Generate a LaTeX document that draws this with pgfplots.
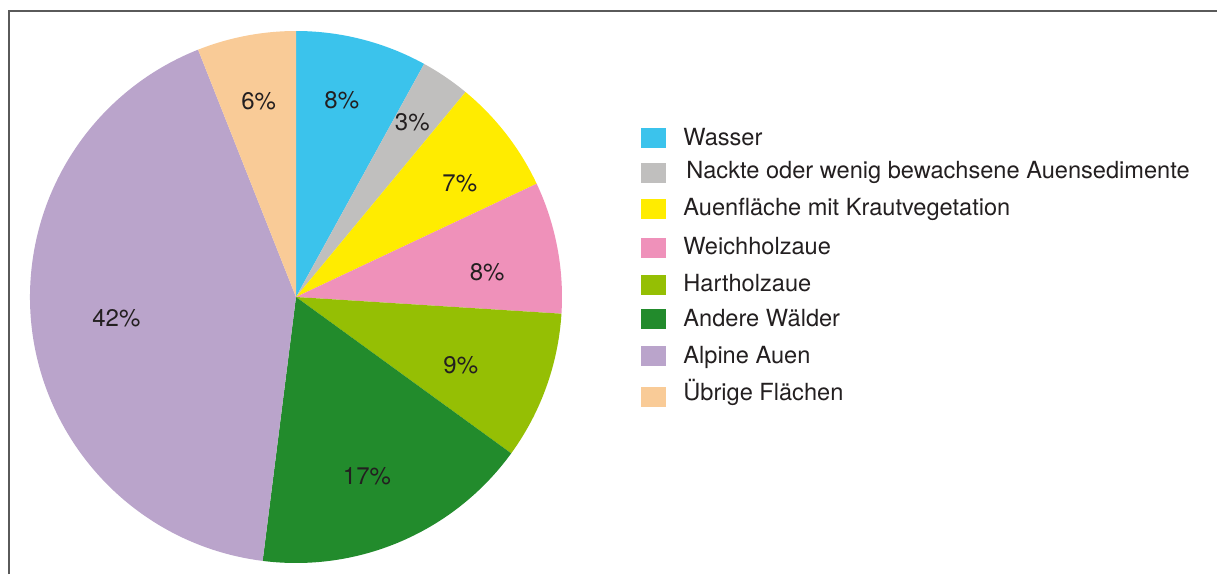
\documentclass[border=0pt]{standalone}
\usepackage{fontspec}
\setmainfont{TeX Gyre Heros}
\usepackage{pgfplots}
\usepackage{pgfplotstable}
\pgfplotsset{compat=1.18}

\definecolor{cWasser}{HTML}{3BC3EC}
\definecolor{cNackt}{HTML}{C0BFBE}
\definecolor{cKraut}{HTML}{FFEC00}
\definecolor{cWeich}{HTML}{EF91BA}
\definecolor{cHart}{HTML}{95BF04}
\definecolor{cWald}{HTML}{228B2C}
\definecolor{cAlpin}{HTML}{BAA4CB}
\definecolor{cUebrig}{HTML}{F9CB97}
\definecolor{txt}{HTML}{231F20}
\definecolor{frame}{HTML}{5A5A5A}

% share in percent, slice colour, label distance (fraction of radius),
% label angle nudge (deg), legend row: key centre, text baseline, text start (px from top left)
\pgfplotstableread[col sep=comma]{
name,value,color,lr,da,sy,ty,tx
Wasser,8,cWasser,0.76,1.3,138,146,683
Nackte oder wenig bewachsene Auensedimente,3,cNackt,0.79,0.6,173,179,686
Auenfläche mit Krautvegetation,7,cKraut,0.75,-3,209.5,215.7,683
Weichholzaue,8,cWeich,0.725,-3.3,248,254.3,683
Hartholzaue,9,cHart,0.67,-2.6,284.7,291.7,683
Andere Wälder,17,cWald,0.725,-1.8,319,326.7,683
Alpine Auen,42,cAlpin,0.68,-0.5,356,363.3,683
Übrige Flächen,6,cUebrig,0.75,0,397,401,683
}\piedata

\begin{document}
\begin{tikzpicture}
\path[use as bounding box] (0,0) rectangle (608.5pt,287pt);

\begin{axis}[
  at={(148pt,138.5pt)}, anchor=center,
  scale only axis, width=266pt, height=266pt,
  xmin=-1, xmax=1, ymin=-1, ymax=1,
  hide axis, clip=false]
\def\cum{0}
\pgfplotsforeachungrouped \i in {0,...,7}{
  \pgfplotstablegetelem{\i}{value}\of\piedata \let\v\pgfplotsretval
  \pgfplotstablegetelem{\i}{color}\of\piedata \let\col\pgfplotsretval
  \pgfplotstablegetelem{\i}{lr}\of\piedata \let\lr\pgfplotsretval
  \pgfplotstablegetelem{\i}{da}\of\piedata \let\da\pgfplotsretval
  \pgfmathsetmacro\sa{90-\cum*3.6}
  \pgfmathsetmacro\ea{90-(\cum+\v)*3.6}
  \pgfmathsetmacro\ma{(\sa+\ea)/2+\da}
  \pgfmathsetmacro\sx{cos(\sa)}
  \pgfmathsetmacro\sy{sin(\sa)}
  \pgfmathsetmacro\lx{\lr*cos(\ma)}
  \pgfmathsetmacro\ly{\lr*sin(\ma)}
  \edef\temp{%
    \noexpand\fill[\col] (axis cs:0,0) -- (axis cs:\sx,\sy)
      arc[start angle=\sa, end angle=\ea, radius=133pt] -- cycle;
    \noexpand\node[text=txt, font=\noexpand\fontsize{12}{14}\noexpand\selectfont, inner sep=0pt]
      at (axis cs:\lx,\ly) {\v\noexpand\%};
  }
  \temp
  \pgfmathsetmacro\cum{\cum+\v}
}
\end{axis}

\begin{scope}[x=0.5pt, y=-0.5pt, shift={(0pt,287pt)}]
% frame
\draw[line width=1pt, frame] (8.5,574) -- (8.5,11.5) -- (1217,11.5);
% legend
\pgfplotsforeachungrouped \i in {0,...,7}{
  \pgfplotstablegetelem{\i}{name}\of\piedata \let\nm\pgfplotsretval
  \pgfplotstablegetelem{\i}{color}\of\piedata \let\col\pgfplotsretval
  \pgfplotstablegetelem{\i}{sy}\of\piedata \let\ky\pgfplotsretval
  \pgfplotstablegetelem{\i}{ty}\of\piedata \let\ty\pgfplotsretval
  \pgfplotstablegetelem{\i}{tx}\of\piedata \let\tx\pgfplotsretval
  \fill[\col] (641,{\ky-10}) rectangle (666,{\ky+10});
  \node[anchor=base west, inner sep=0pt, text=txt, font=\fontsize{11.8}{14}\selectfont]
    at (\tx,\ty) {\nm};
}
\end{scope}
\end{tikzpicture}
\end{document}
